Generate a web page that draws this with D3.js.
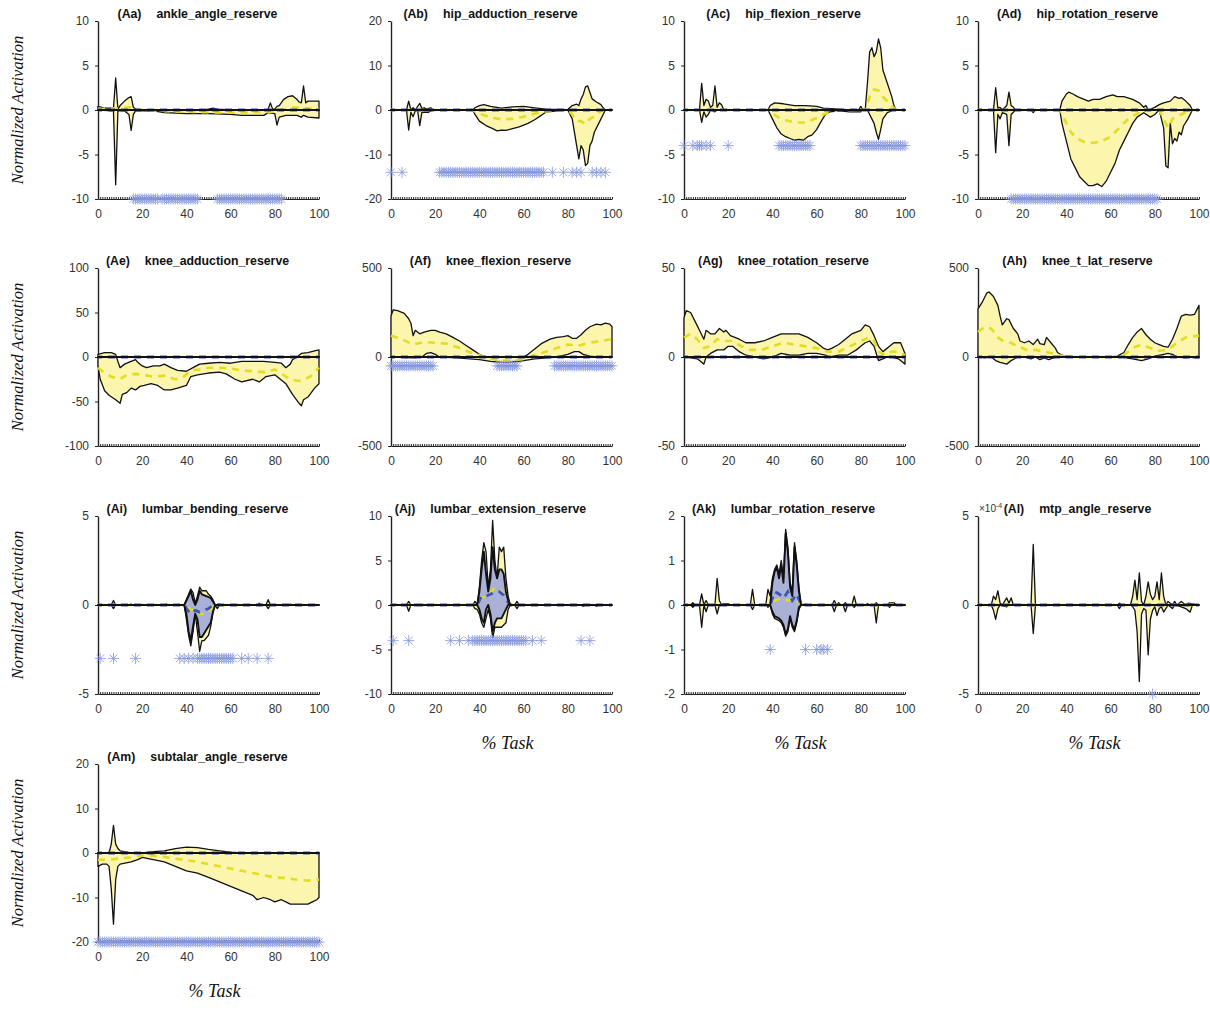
<!DOCTYPE html>
<html><head><meta charset="utf-8">
<script src="https://cdn.jsdelivr.net/npm/d3@7"></script>
<style>body{margin:0;background:#fff}</style>
</head><body>
<svg id="c" width="1210" height="1012"></svg>
<script>
// ---------------- DATA ----------------
const xTicks = [0, 20, 40, 60, 80, 100];
const zeroLine = [[0, 0], [100, 0]];

// Aa ankle_angle_reserve
const ticksAa = [-10, -5, 0, 5, 10];
const aaUp = [[0,0.4],[3,0.2],[7,0.2],[8,3.6],[9,0.1],[10,0.5],[12,1.0],[14,1.4],[15,1.5],[16,0.3],[17,0.1],[20,0],[48,0],[50,0.1],[52,0.2],[54,0.1],[60,0],[76,0],[77,0.1],[78,0.8],[79,0.1],[80,0.1],[81,0.4],[82,0.5],[84,1.2],[86,1.5],[88,1.6],[90,1.2],[91,0.9],[92,0.8],[93,2.7],[94,0.8],[95,1.0],[97,1.0],[100,1.0]];
const aaLo = [[0,0],[7,-0.1],[8,-8.4],[9,-0.1],[12,-0.1],[14,-0.5],[15,-2.3],[16,-0.5],[17,-0.1],[25,-0.1],[30,-0.3],[40,-0.4],[50,-0.4],[60,-0.5],[65,-0.6],[70,-0.6],[75,-0.6],[77,-0.3],[80,-0.4],[81,-1.7],[82,-0.8],[85,-0.6],[90,-0.6],[92,-0.8],[93,-0.6],[95,-0.8],[100,-0.9]];
const aaMean = [[0,0.1],[10,0.2],[15,0.3],[20,0],[30,-0.1],[40,-0.2],[60,-0.3],[80,-0.2],[88,0.3],[95,0.2],[100,0.1]];
const aaStars = [[16,27],[29,45],[54,83]];

// Ab hip_adduction_reserve
const ticksAb = [-20, -10, 0, 10, 20];
const abUp = [[0,0],[7,0],[8,2],[9,0],[10,0.5],[11,0],[13,1.5],[14,0.3],[15,0.5],[16,0.2],[18,0.5],[19,0],[37,0],[38,0.5],[40,1.0],[42,1.2],[45,0.8],[50,0.4],[55,0.7],[60,0.8],[65,0.5],[70,0.2],[80,0.1],[82,1.0],[84,1.3],[85,1.0],[86,2.5],[87,3.5],[88,5.2],[89,5.4],[90,4],[91,2.5],[93,1.8],[95,1.2],[96,0.5],[97,0],[100,0]];
const abLo = [[0,0],[7,0],[8,-4.5],[9,-0.5],[10,-1.5],[11,-0.2],[12,0],[13,-3.5],[14,-0.5],[17,-0.5],[19,0],[37,0],[38,-1],[40,-2.5],[43,-3.5],[46,-4.2],[48,-4.7],[50,-4.5],[52,-4.6],[55,-4.2],[58,-3.8],[62,-3],[65,-2.2],[68,-1.2],[70,-0.5],[75,-0.2],[80,0],[82,-2],[84,-8],[85,-11],[86,-8],[87,-9],[88,-12.5],[89,-12],[90,-8],[91,-7],[92,-5],[94,-3],[96,-1],[97,0],[100,0]];
const abMean = [[0,0],[37,0],[40,-0.8],[45,-1.7],[50,-2.1],[55,-2],[60,-1.5],[65,-0.8],[70,-0.3],[80,0],[82,-1],[84,-2.5],[86,-2.5],[88,-3.2],[90,-2],[92,-1.5],[94,-0.5],[96,0],[100,0]];
const abStars = [[0,0],[5,5],[22,69],[73,73],[78,78],[82,82],[84,84],[86,86],[91,91],[93,93],[95,95],[97,97]];

// Ac hip_flexion_reserve
const ticksAc = [-10, -5, 0, 5, 10];
const acUp = [[0,0],[7,0],[8,3.0],[9,0.5],[10,1.2],[11,1.0],[12,0.3],[13,0.5],[14,2.7],[15,0.3],[16,0.8],[17,0.6],[18,0],[38,0],[39,0.5],[41,0.8],[45,0.7],[50,0.5],[55,0.5],[60,0.4],[63,0.2],[70,0.1],[75,0],[79,0],[80,0.4],[81,0],[82,0],[83,3],[84,6.5],[85,7],[86,6],[87,6.5],[88,8],[89,7],[90,4.5],[92,3],[94,1.5],[95,0.5],[96,0],[100,0]];
const acLo = [[0,0],[7,0],[8,-1.4],[9,-0.2],[10,-0.8],[11,-0.5],[12,0],[14,-0.2],[15,0],[38,0],[40,-1],[42,-2],[44,-2.7],[46,-3],[48,-3.2],[50,-3.4],[52,-3.3],[54,-3.4],[56,-3],[58,-2.8],[60,-2.2],[62,-1.3],[64,-0.5],[66,-0.2],[70,-0.1],[75,-0.2],[80,-0.2],[81,0],[83,0],[84,-0.5],[85,-1],[86,-1.5],[87,-2.5],[88,-3.3],[89,-2.2],[90,-1],[92,-0.3],[95,0],[100,0]];
const acMean = [[0,0],[38,0],[40,-0.4],[44,-1.0],[50,-1.4],[55,-1.4],[60,-0.9],[65,-0.3],[70,0],[82,0],[84,1.5],[86,2.3],[88,2.2],[90,1.5],[93,0.7],[96,0],[100,0]];
const acStars = [[0,0],[4,4],[6,8],[10,10],[12,12],[20,20],[43,57],[80,100]];

// Ad hip_rotation_reserve
const ticksAd = [-10, -5, 0, 5, 10];
const adUp = [[0,0],[7,0],[8,2.5],[9,0.2],[10,0.3],[11,0],[13,0.5],[14,2.0],[15,0.5],[16,0.3],[17,0],[37,0],[38,1],[40,1.8],[41,2],[43,1.8],[45,1.5],[48,1.2],[50,1],[52,1.2],[55,1.2],[58,1.5],[61,1.7],[63,1.5],[66,1.5],[70,1.2],[73,0.8],[75,0.3],[76,0.5],[77,0],[80,0.3],[82,0.6],[84,0.8],[87,1],[89,1.5],[91,1.3],[92,1.4],[94,1],[96,0.5],[97,0],[100,0]];
const adLo = [[0,0],[7,0],[8,-4.8],[9,-0.5],[10,-1],[11,-0.3],[13,-0.5],[14,-4],[15,-0.5],[17,0],[24,0],[25,-0.3],[26,0],[37,0],[38,-1.5],[40,-3.5],[42,-5.5],[44,-6.5],[46,-7.5],[48,-8],[50,-8.5],[52,-8.5],[54,-8.3],[56,-8.6],[58,-8],[60,-7],[62,-6],[64,-4.5],[66,-3.5],[68,-2.5],[70,-1.5],[72,-0.8],[75,-0.3],[78,-0.8],[80,-0.5],[82,0],[84,-2],[85,-6.3],[86,-6.5],[87,-1.5],[88,-3.8],[89,-3.2],[90,-3.5],[91,-2.5],[92,-2.8],[93,-1.8],[95,-1],[97,0],[100,0]];
const adMean = [[0,0],[37,0],[40,-1.5],[42,-2.5],[45,-3.2],[48,-3.6],[52,-3.7],[56,-3.5],[60,-3],[64,-2],[68,-1],[72,-0.4],[76,0],[82,0],[84,-1],[86,-2],[88,-1],[90,-0.7],[92,-0.5],[96,0],[100,0]];
const adStars = [[15,81]];

// Ae knee_adduction_reserve
const ticksAe = [-100, -50, 0, 50, 100];
const aeUp = [[0,3],[3,5],[6,5],[8,3],[9,-5],[10,-12],[12,-8],[15,-5],[17,-3],[18,-6],[20,-10],[22,-12],[25,-10],[28,-10],[30,-8],[33,-12],[36,-15],[40,-16],[43,-12],[46,-8],[50,-7],[55,-6],[60,-7],[65,-5],[70,-5],[75,-5],[80,-6],[83,-7],[85,-12],[87,-8],[88,-3],[90,0],[92,4],[95,5],[98,7],[100,8]];
const aeLo = [[0,-10],[1,-25],[3,-38],[5,-43],[8,-48],[10,-52],[11,-42],[13,-40],[15,-35],[17,-37],[19,-33],[21,-32],[24,-30],[27,-32],[30,-37],[33,-37],[36,-35],[40,-32],[42,-22],[45,-20],[50,-18],[55,-17],[58,-19],[62,-25],[65,-28],[70,-25],[73,-28],[76,-22],[80,-20],[85,-30],[88,-42],[91,-52],[92,-55],[93,-48],[95,-45],[98,-35],[100,-30]];
const aeMean = [[0,-12],[3,-18],[6,-22],[8,-24],[10,-25],[13,-20],[17,-19],[20,-20],[25,-22],[30,-21],[35,-25],[38,-24],[42,-15],[46,-14],[50,-12],[55,-12],[60,-13],[65,-15],[70,-16],[75,-17],[80,-14],[85,-22],[88,-26],[92,-27],[96,-22],[100,-12]];
const aeStars = [];

// Af knee_flexion_reserve
const ticksAf = [-500, 0, 500];
const afUp = [[0,230],[1,265],[3,260],[6,245],[8,215],[9,190],[10,120],[11,150],[13,130],[15,140],[18,150],[20,150],[22,140],[25,130],[28,110],[31,90],[34,65],[37,40],[40,15],[42,2],[45,0],[60,0],[62,15],[64,35],[66,55],[68,75],[72,100],[75,110],[78,115],[80,120],[82,105],[84,105],[86,125],[88,150],[90,170],[93,185],[95,180],[97,190],[99,185],[100,170]];
const afLo = [[0,0],[10,-5],[14,0],[16,20],[18,25],[20,15],[22,0],[30,-5],[40,-15],[45,-25],[50,-30],[55,-28],[60,-20],[65,-10],[75,0],[80,15],[83,30],[85,30],[87,15],[90,5],[93,0],[100,0]];
const afMean = [[0,120],[5,100],[10,70],[15,85],[20,80],[25,75],[30,55],[35,30],[40,10],[45,-10],[50,-20],[55,-20],[60,-10],[65,10],[70,30],[75,50],[80,70],[85,65],[90,80],[95,90],[100,100]];
const afStars = [[0,19],[48,57],[74,100]];

// Ag knee_rotation_reserve
const ticksAg = [-50, 0, 50];
const agUp = [[0,22],[1,26],[3,25],[5,20],[7,15],[9,10],[10,15],[12,13],[14,13],[16,16],[18,14],[19,15],[21,12],[23,11],[25,10],[28,8],[32,8],[36,9],[40,11],[44,13],[48,13],[52,13],[56,11],[60,8],[63,5],[65,4],[67,5],[70,7],[73,10],[76,13],[78,14],[80,15],[82,18],[84,17],[86,12],[88,6],[90,3],[91,4],[93,6],[95,8],[98,8],[100,2]];
const agLo = [[0,0],[3,-0.5],[6,-1],[8,-3],[9,-4],[10,0],[12,2],[15,4],[18,4],[20,6],[22,6],[25,3],[28,1],[32,0],[36,-1],[40,0],[44,2],[48,1],[52,1],[56,2],[60,2],[64,1],[66,0],[70,1],[74,1],[78,4],[80,6],[82,8],[84,9],[86,6],[88,-2],[90,-1],[92,0],[94,0],[97,-1],[99,-3],[100,-4]];
const agMean = [[0,11],[3,13],[6,10],[9,5],[12,6],[15,10],[18,9],[22,9],[26,6],[30,4],[35,4],[40,6],[45,8],[50,7],[55,6],[60,5],[65,3],[70,3],[75,6],[80,9],[84,11],[86,9],[88,3],[91,1],[94,3],[97,3],[100,1]];
const agStars = [];

// Ah knee_t_lat_reserve
const ticksAh = [-500, 0, 500];
const ahUp = [[0,270],[2,310],[4,360],[5,365],[7,340],[9,290],[10,230],[11,180],[13,215],[14,210],[16,160],[18,130],[19,90],[21,80],[23,90],[25,70],[27,100],[28,75],[30,70],[31,110],[33,80],[35,50],[36,25],[38,10],[40,5],[45,0],[60,0],[63,5],[66,25],[68,70],[70,110],[72,140],[74,160],[76,125],[78,100],[80,80],[82,70],[84,60],[86,55],[88,100],[90,160],[92,230],[94,240],[96,235],[98,240],[100,290]];
const ahLo = [[0,0],[3,-5],[6,0],[8,-20],[10,-30],[13,-40],[15,-20],[18,0],[21,0],[24,-10],[26,0],[28,-15],[30,-5],[32,-15],[34,-5],[36,0],[40,5],[45,0],[60,0],[65,0],[70,-10],[74,-20],[77,-10],[80,5],[84,15],[86,20],[88,15],[90,0],[94,-5],[96,0],[98,-5],[100,-5]];
const ahMean = [[0,140],[3,170],[6,160],[9,110],[12,85],[15,80],[18,60],[22,40],[26,40],[30,30],[34,20],[38,5],[42,0],[62,0],[66,10],[70,50],[74,70],[78,50],[82,35],[86,40],[90,80],[94,110],[100,120]];
const ahStars = [];

// Ai lumbar_bending_reserve
const ticksAi = [-5, 0, 5];
const aiUp = [[0,0],[6,0],[7,0.25],[8,0],[14,0],[15,0.05],[16,0],[30,0],[31,0.05],[32,0],[39,0],[41,0.6],[42,0.9],[43,0.7],[44,0.1],[45,0.5],[46,1.0],[47,0.8],[49,0.8],[50,0.6],[51,0.5],[52,0.3],[53,0],[55,0.05],[56,0],[72,0],[73,0.1],[74,0],[76,0],[77,0.3],[78,0],[86,0],[87,0.05],[88,0],[100,0]];
const aiLo = [[0,0],[6,0],[7,-0.2],[8,0],[39,0],[40,-0.8],[41,-1.7],[42,-2.3],[43,-1.5],[44,-0.5],[45,-1.5],[46,-2.6],[47,-2.0],[48,-2.0],[50,-1.7],[51,-1.2],[52,-0.4],[53,0],[54,-0.2],[55,0],[76,0],[77,-0.2],[78,0],[100,0]];
const aiMean = [[0,0],[40,0],[42,-0.3],[44,-0.2],[46,-0.5],[48,-0.5],[50,-0.4],[52,-0.1],[54,0],[100,0]];
const aiBlueUp = [[0,0],[39,0],[41,0.5],[42,0.8],[43,0.3],[44,0],[45,0.3],[46,0.8],[47,0.6],[49,0.5],[51,0.4],[52,0.2],[53,0],[100,0]];
const aiBlueLo = [[0,0],[39,0],[40,-0.5],[41,-1.5],[42,-2.0],[43,-1.2],[44,-0.5],[45,-0.8],[46,-1.8],[47,-1.8],[48,-1.6],[50,-1.2],[51,-1.0],[52,-0.4],[53,0],[100,0]];
const aiBlueMean = [[0,0],[39,0],[40,-0.2],[42,-0.5],[44,-0.3],[46,-0.4],[48,-0.3],[50,-0.2],[52,0],[100,0]];
const aiStars = [[1,1],[7,7],[17,17],[37,37],[39,39],[41,41],[43,43],[45,61],[65,65],[68,68],[72,72],[77,77]];

// Aj lumbar_extension_reserve
const ticksAj = [-10, -5, 0, 5, 10];
const ajUp = [[0,0],[1,0],[2,0.1],[3,0],[7,0],[8,0.4],[9,0],[10,0.05],[11,0],[13,0],[14,0.1],[15,0],[37,0],[38,0.4],[39,0],[40,2],[41,5],[42,7],[43,6],[44,2],[45,4],[46,9.5],[47,5],[48,3],[49,6.5],[50,6],[51,6.5],[52,3],[53,1],[54,0],[56,0],[57,0.4],[58,0],[76,0],[77,0.05],[78,0],[86,0],[87,0.05],[88,0],[92,0],[93,0.05],[94,0],[100,0]];
const ajLo = [[0,0],[7,0],[8,-0.7],[9,0],[13,0],[14,-0.1],[15,0],[37,0],[38,-0.4],[39,-0.5],[40,-1],[41,-2],[42,-2.5],[43,-1.5],[44,-0.5],[45,-1.5],[46,-3.7],[47,-2.5],[48,-2.5],[50,-2.5],[52,-2],[53,-0.5],[54,0],[56,0],[57,-0.4],[58,0],[86,0],[87,-0.15],[88,0],[92,0],[93,-0.15],[94,0],[100,0]];
const ajMean = [[0,0],[39,0],[41,0.8],[43,1.0],[45,1.5],[47,1.9],[49,1.8],[51,1.2],[53,0.3],[55,0],[100,0]];
const ajBlueUp = [[0,0],[39,0],[40,1.5],[41,4],[42,6],[43,3.5],[44,1.5],[45,3],[46,6.5],[47,4],[48,3],[49,4],[50,4],[51,3.5],[52,1.5],[53,0.5],[54,0],[100,0]];
const ajBlueLo = [[0,0],[39,0],[40,-0.5],[41,-1.5],[42,-2],[43,-0.5],[44,0],[45,-1],[46,-3.0],[47,-2],[48,-1.5],[49,-1.5],[50,-1.5],[51,-1],[52,-0.5],[53,0],[100,0]];
const ajBlueMean = [[0,0],[39,0],[41,1.0],[43,1.0],[45,1.2],[47,1.5],[49,1.5],[51,1.1],[53,0.3],[54,0],[100,0]];
const ajStars = [[1,1],[8,8],[27,27],[31,31],[35,35],[37,61],[64,64],[68,68],[86,86],[90,90]];

// Ak lumbar_rotation_reserve
const ticksAk = [-2, -1, 0, 1, 2];
const akUp = [[0,0],[3,0],[4,0.05],[5,0],[7,0],[8,0.25],[9,0],[10,0.1],[11,0],[14,0],[15,0.6],[16,0.1],[17,0],[18,0.03],[20,0.03],[21,0],[30,0],[31,0.35],[32,0],[37,0],[38,0.35],[39,0.2],[40,0.6],[41,0.8],[42,0.9],[43,0.7],[44,1.0],[45,0.6],[46,1.7],[47,1.3],[48,0.5],[49,0.3],[50,1.4],[51,1.0],[52,0.4],[53,0],[55,0.02],[56,0],[67,0],[68,0.1],[69,0],[70,0.05],[71,0],[72,0],[73,0.05],[74,0],[76,0],[77,0.2],[78,0],[82,0],[83,0.03],[84,0],[86,0],[87,0.05],[88,0],[92,0],[93,0.05],[95,0.05],[96,0],[100,0]];
const akLo = [[0,0],[3,0],[4,-0.05],[5,0],[7,0],[8,-0.5],[9,0],[10,-0.15],[11,0],[14,0],[15,-0.2],[16,0],[30,0],[31,-0.1],[32,0],[37,0],[38,-0.05],[39,0],[40,-0.2],[41,-0.3],[43,-0.35],[44,-0.4],[45,-0.5],[46,-0.7],[47,-0.6],[48,-0.3],[49,-0.5],[50,-0.6],[51,-0.4],[52,-0.1],[53,0],[67,0],[68,-0.15],[69,0],[72,0],[73,-0.15],[74,0],[76,0],[77,-0.05],[78,0],[86,0],[87,-0.4],[88,0],[92,0],[93,-0.05],[94,0],[100,0]];
const akMean = [[0,0],[39,0],[41,0.1],[44,0.15],[47,0.1],[50,0.15],[52,0.05],[54,0],[100,0]];
const akBlueUp = [[0,0],[39,0],[40,0.5],[41,0.75],[42,0.85],[43,0.6],[44,0.9],[45,0.5],[46,1.6],[47,1.2],[48,0.4],[49,0.2],[50,1.3],[51,0.9],[52,0.3],[53,0],[100,0]];
const akBlueLo = [[0,0],[39,0],[40,-0.15],[41,-0.25],[43,-0.3],[44,-0.35],[45,-0.45],[46,-0.65],[47,-0.55],[48,-0.25],[49,-0.45],[50,-0.55],[51,-0.35],[52,-0.05],[53,0],[100,0]];
const akBlueMean = [[0,0],[39,0],[41,0.3],[43,0.25],[45,0.15],[47,0.3],[49,0.1],[51,0.25],[53,0],[100,0]];
const akStars = [[39,39],[55,55],[60,60],[62,62],[63,63],[65,65]];

// Al mtp_angle_reserve (x10^-4)
const ticksAl = [-5, 0, 5];
const alUp = [[0,0],[6,0],[7,0.5],[8,0.3],[9,0.8],[10,0.1],[11,0],[13,0.4],[14,0.1],[15,0.4],[16,0],[24,0],[25,3.4],[26,0],[30,0],[63,0],[64,0.1],[65,0],[69,0],[70,0.5],[71,1.4],[72,0.3],[73,1.8],[74,0.2],[75,0],[76,0.5],[77,1.3],[78,0.6],[79,0.3],[80,0.5],[81,1.3],[82,0.3],[83,1.8],[84,0.5],[85,0],[86,0.2],[87,0.1],[88,0],[89,0.2],[90,0],[92,0.2],[93,0.1],[94,0],[95,0.1],[100,0]];
const alLo = [[0,0],[6,0],[7,-0.3],[8,-0.8],[9,-0.2],[10,0],[13,-0.1],[14,0],[24,0],[25,-1.6],[26,0],[63,0],[64,-0.2],[65,0],[69,0],[70,-0.1],[71,-0.3],[72,-1.5],[73,-4.3],[74,-0.5],[75,-0.2],[76,-0.3],[77,-2.8],[78,-0.8],[79,-0.3],[80,-0.1],[81,-0.6],[82,-0.2],[83,-0.1],[84,-0.4],[85,-0.2],[86,0],[88,-0.2],[89,0],[92,-0.1],[94,-0.2],[96,-0.4],[97,0],[100,0]];
const alMean = [[0,0],[100,0]];
const alStars = [[79,79]];

// Am subtalar_angle_reserve
const ticksAm = [-20, -10, 0, 10, 20];
const amUp = [[0,0],[5,0],[6,2],[7,6.2],[8,2],[9,1],[10,0.5],[15,0],[20,0],[25,0.3],[30,0.5],[35,1],[40,1.3],[45,1.2],[50,0.8],[55,0.5],[60,0.2],[65,0],[100,0]];
const amLo = [[0,-3],[2,-2.5],[4,-2.5],[5,-3],[6,-8],[7,-16],[8,-6],[9,-3],[10,-2.5],[15,-2],[18,-1.5],[20,-1],[25,-1.5],[30,-2],[35,-3],[40,-4],[45,-4.5],[50,-5.5],[55,-6.5],[60,-7.5],[65,-8.5],[70,-9.5],[72,-10.5],[75,-10],[78,-10.5],[80,-11],[83,-10.5],[85,-11],[87,-11.5],[90,-11.5],[95,-11.5],[97,-11],[99,-10.5],[100,-10]];
const amMean = [[0,-1.5],[5,-1.5],[10,-1.2],[15,-1],[20,-0.6],[25,-0.6],[30,-0.9],[35,-1.3],[40,-1.6],[45,-2],[50,-2.5],[55,-3],[60,-3.5],[65,-4],[70,-4.5],[75,-5],[80,-5.5],[85,-5.6],[90,-6],[95,-6.2],[100,-6]];
const amStars = [[0,100]];

// ---------------- PANELS ----------------
const panels = [
  {id:'Aa', name:'ankle_angle_reserve', col:0, row:0, ticks:ticksAa, up:aaUp, lo:aaLo, mean:aaMean, stars:aaStars, starY:-10},
  {id:'Ab', name:'hip_adduction_reserve', col:1, row:0, ticks:ticksAb, up:abUp, lo:abLo, mean:abMean, stars:abStars, starY:-14},
  {id:'Ac', name:'hip_flexion_reserve', col:2, row:0, ticks:ticksAc, up:acUp, lo:acLo, mean:acMean, stars:acStars, starY:-4},
  {id:'Ad', name:'hip_rotation_reserve', col:3, row:0, ticks:ticksAd, up:adUp, lo:adLo, mean:adMean, stars:adStars, starY:-10},
  {id:'Ae', name:'knee_adduction_reserve', col:0, row:1, ticks:ticksAe, up:aeUp, lo:aeLo, mean:aeMean, stars:aeStars, starY:0},
  {id:'Af', name:'knee_flexion_reserve', col:1, row:1, ticks:ticksAf, up:afUp, lo:afLo, mean:afMean, stars:afStars, starY:-50},
  {id:'Ag', name:'knee_rotation_reserve', col:2, row:1, ticks:ticksAg, up:agUp, lo:agLo, mean:agMean, stars:agStars, starY:0},
  {id:'Ah', name:'knee_t_lat_reserve', col:3, row:1, ticks:ticksAh, up:ahUp, lo:ahLo, mean:ahMean, stars:ahStars, starY:0},
  {id:'Ai', name:'lumbar_bending_reserve', col:0, row:2, ticks:ticksAi, up:aiUp, lo:aiLo, mean:aiMean, bUp:aiBlueUp, bLo:aiBlueLo, bMean:aiBlueMean, stars:aiStars, starY:-3},
  {id:'Aj', name:'lumbar_extension_reserve', col:1, row:2, ticks:ticksAj, up:ajUp, lo:ajLo, mean:ajMean, bUp:ajBlueUp, bLo:ajBlueLo, bMean:ajBlueMean, stars:ajStars, starY:-4},
  {id:'Ak', name:'lumbar_rotation_reserve', col:2, row:2, ticks:ticksAk, up:akUp, lo:akLo, mean:akMean, bUp:akBlueUp, bLo:akBlueLo, bMean:akBlueMean, stars:akStars, starY:-1},
  {id:'Al', name:'mtp_angle_reserve', col:3, row:2, ticks:ticksAl, up:alUp, lo:alLo, mean:alMean, stars:alStars, starY:-5, exp:true},
  {id:'Am', name:'subtalar_angle_reserve', col:0, row:3, ticks:ticksAm, up:amUp, lo:amLo, mean:amMean, stars:amStars, starY:-20}
];

// ---------------- DRAW ----------------
const svg = d3.select('#c');
const colX = [98, 391, 684, 978], W = 221;
const rowY = [21, 268, 516, 764], H = 178;
const YELLOW = '#fbf5ae', BLUEFILL = '#aab0d6', STAR = '#8596dc';
const SANS = '"Liberation Sans", Arial, Helvetica, sans-serif';
const SERIF = '"Liberation Serif", "Times New Roman", serif';

function starPath(r) {
  const a = r * 0.7071;
  return `M${-r},0L${r},0M0,${-r}L0,${r}M${-a},${-a}L${a},${a}M${-a},${a}L${a},${-a}`;
}

panels.forEach(p => {
  const x0 = colX[p.col], y0 = rowY[p.row];
  const x = d3.scaleLinear().domain([0, 100]).range([x0, x0 + W]);
  const y = d3.scaleLinear().domain([p.ticks[0], p.ticks[p.ticks.length - 1]]).range([y0 + H, y0]);
  const line = d3.line().x(d => x(d[0])).y(d => y(d[1]));
  const poly = (up, lo) => line(up.concat(lo.slice().reverse())) + 'Z';
  const bUp = p.bUp || zeroLine, bLo = p.bLo || zeroLine, bMean = p.bMean || zeroLine;
  const g = svg.append('g');

  // axes
  const yAxis = d3.axisLeft(y).tickValues(p.ticks).tickSize(3).tickSizeOuter(0).tickPadding(6)
    .tickFormat(d => String(d));
  const ya = g.append('g').attr('transform', `translate(${x0},0)`).call(yAxis);
  ya.select('.domain').attr('stroke', '#222').attr('stroke-width', 1.4);
  ya.selectAll('.tick line').attr('stroke', '#222');
  ya.selectAll('text').attr('font-family', SANS).attr('font-size', 12).attr('fill', '#333');

  const minor = d3.axisBottom(x).tickValues(d3.range(0, 101, 1)).tickSize(-2).tickSizeOuter(0).tickFormat('');
  const xm = g.append('g').attr('transform', `translate(0,${y0 + H})`).call(minor);
  xm.select('.domain').attr('stroke', '#222').attr('stroke-width', 1.2);
  xm.selectAll('.tick line').attr('stroke', '#222').attr('stroke-width', 1);
  const xAxis = d3.axisBottom(x).tickValues(xTicks).tickSize(0).tickPadding(10).tickFormat(d => String(d));
  const xa = g.append('g').attr('transform', `translate(0,${y0 + H})`).call(xAxis);
  xa.select('.domain').remove();
  xa.selectAll('text').attr('font-family', SANS).attr('font-size', 12).attr('fill', '#333');

  // fills
  g.append('path').attr('d', poly(p.up, p.lo)).attr('fill', YELLOW);
  g.append('path').attr('d', poly(bUp, bLo)).attr('fill', BLUEFILL);
  // yellow outline
  g.append('path').attr('d', poly(p.up, p.lo)).attr('fill', 'none').attr('stroke', '#111')
    .attr('stroke-width', 1.3).attr('stroke-linejoin', 'round');
  // means
  g.append('path').attr('d', line(p.mean)).attr('fill', 'none').attr('stroke', '#e2dc22')
    .attr('stroke-width', 2.6).attr('stroke-dasharray', '7,6');
  g.append('path').attr('d', line(bMean)).attr('fill', 'none').attr('stroke', '#3a57b8')
    .attr('stroke-width', 2.8).attr('stroke-dasharray', '7,6').attr('stroke-dashoffset', 3);
  // blue outline on top (zero line appears black)
  g.append('path').attr('d', poly(bUp, bLo)).attr('fill', 'none').attr('stroke', '#111')
    .attr('stroke-width', 1.9).attr('stroke-linejoin', 'round');

  // stars
  const starXs = [];
  p.stars.forEach(r => { for (let v = r[0]; v <= r[1]; v++) starXs.push(v); });
  g.append('g').selectAll('path').data(starXs).join('path')
    .attr('d', starPath(5.5))
    .attr('transform', d => `translate(${x(d)},${y(p.starY)})`)
    .attr('fill', 'none').attr('stroke', STAR).attr('stroke-width', 1).attr('opacity', 0.8);

  // title
  const t = g.append('text').attr('x', x0 + W / 2 - 11).attr('y', y0 - 3)
    .attr('text-anchor', 'middle').attr('font-family', SANS).attr('font-size', 12.3)
    .attr('font-weight', 'bold').attr('fill', '#111');
  t.append('tspan').text(`(${p.id})`);
  t.append('tspan').attr('dx', 15).text(p.name);

  if (p.exp) {
    const e = g.append('text').attr('x', x0 + 1).attr('y', y0 - 4).attr('font-family', SANS)
      .attr('font-size', 10).attr('fill', '#333');
    e.append('tspan').text('\u00d710');
    e.append('tspan').attr('dy', -4).attr('font-size', 7).text('-4');
  }
});

// y labels
rowY.forEach(y0 => {
  svg.append('text').attr('transform', `translate(23,${y0 + H / 2}) rotate(-90)`)
    .attr('text-anchor', 'middle').attr('font-family', SERIF).attr('font-style', 'italic')
    .attr('font-size', 16.5).attr('fill', '#111').text('Normalized Activation');
});
// x labels
const xLabelPos = [[1, 2], [2, 2], [3, 2], [0, 3]];
xLabelPos.forEach(([c, r]) => {
  svg.append('text').attr('x', colX[c] + W / 2 + 6).attr('y', rowY[r] + H + 55)
    .attr('text-anchor', 'middle').attr('font-family', SERIF).attr('font-style', 'italic')
    .attr('font-size', 18).attr('fill', '#111').text('% Task');
});
</script></body></html>
